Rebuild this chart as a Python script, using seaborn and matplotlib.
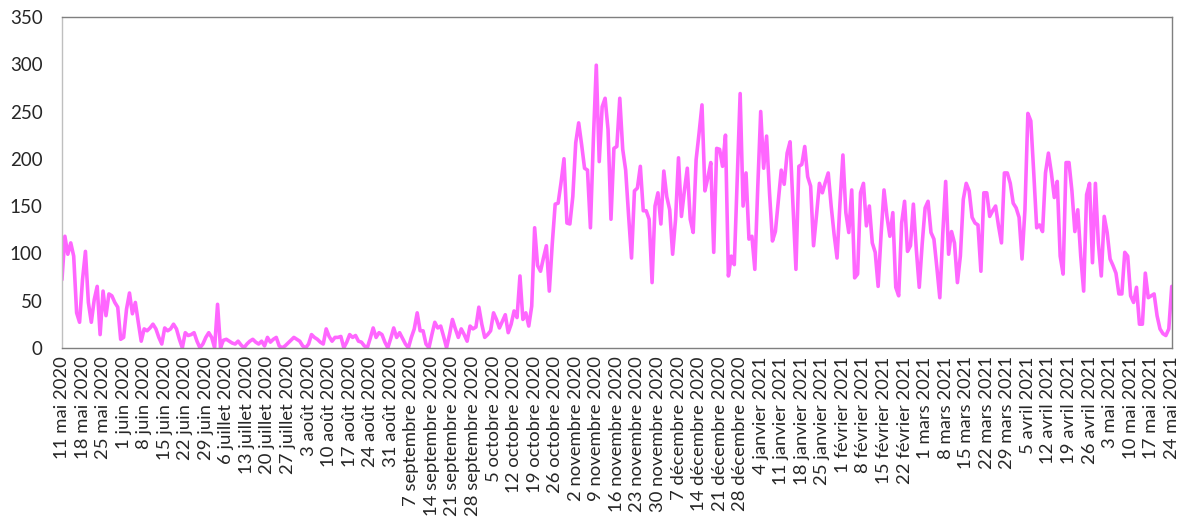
import pandas as pd
import matplotlib
matplotlib.use("Agg")
import matplotlib.pyplot as plt
import seaborn as sns

# valeurs journalières du 11 mai 2020 au 24 mai 2021
valeurs = [
    72, 118, 99, 111, 97, 37, 27, 72, 102, 48,
    27, 51, 65, 14, 60, 34, 57, 55, 48, 43,
    9, 11, 41, 58, 36, 48, 27, 7, 20, 18,
    21, 25, 20, 11, 4, 21, 18, 20, 25, 20,
    9, 0, 16, 13, 14, 16, 7, 0, 4, 11,
    16, 11, 0, 46, 0, 8, 9, 7, 5, 4,
    7, 3, 0, 4, 7, 9, 6, 4, 7, 2,
    11, 6, 9, 11, 2, 0, 2, 5, 8, 11,
    9, 7, 2, 0, 4, 14, 11, 9, 6, 4,
    20, 12, 7, 11, 11, 12, 0, 6, 14, 11,
    13, 7, 6, 2, 0, 10, 21, 11, 16, 14,
    6, 0, 10, 21, 11, 16, 10, 4, 0, 11,
    20, 37, 18, 18, 4, 0, 14, 27, 21, 23,
    12, 0, 14, 30, 20, 11, 20, 14, 7, 23,
    20, 22, 43, 25, 11, 14, 18, 37, 30, 21,
    28, 35, 16, 25, 39, 32, 76, 30, 37, 23,
    44, 127, 87, 81, 95, 108, 60, 110, 152, 153,
    175, 200, 132, 131, 160, 217, 238, 215, 190, 188,
    127, 220, 299, 197, 255, 264, 231, 136, 211, 213,
    264, 210, 188, 140, 95, 166, 169, 192, 145, 145,
    136, 69, 150, 164, 131, 187, 160, 146, 99, 136,
    201, 139, 166, 190, 136, 122, 199, 227, 257, 166,
    180, 196, 101, 211, 210, 192, 225, 76, 97, 88,
    180, 269, 150, 185, 115, 118, 83, 170, 250, 190,
    224, 164, 113, 123, 155, 188, 173, 206, 218, 150,
    83, 192, 194, 213, 181, 171, 108, 140, 174, 164,
    175, 185, 150, 120, 95, 153, 204, 143, 122, 167,
    74, 78, 164, 174, 129, 150, 111, 101, 65, 120,
    167, 139, 118, 143, 64, 55, 132, 155, 102, 108,
    152, 104, 64, 110, 148, 155, 122, 115, 85, 53,
    120, 176, 99, 123, 111, 69, 97, 157, 174, 166,
    138, 132, 130, 81, 164, 164, 139, 145, 150, 129,
    111, 185, 185, 174, 153, 148, 138, 94, 146, 248,
    240, 185, 127, 130, 123, 185, 206, 185, 159, 176,
    97, 78, 196, 196, 166, 123, 146, 97, 60, 162,
    174, 90, 174, 111, 76, 139, 122, 94, 87, 79,
    57, 57, 101, 97, 55, 48, 64, 25, 25, 79,
    53, 55, 57, 34, 20, 15, 13, 20, 65,
]

mois = ["janvier", "février", "mars", "avril", "mai", "juin", "juillet",
        "août", "septembre", "octobre", "novembre", "décembre"]

dates = pd.date_range("2020-05-11", periods=len(valeurs), freq="D")
jours = list(range(len(valeurs)))
positions_ticks = jours[::7]
etiquettes = [f"{dates[i].day} {mois[dates[i].month - 1]} {dates[i].year}" for i in positions_ticks]
graduations_y = [0, 50, 100, 150, 200, 250, 300, 350]

df = pd.DataFrame({"jour": jours, "valeur": valeurs})

sns.set_style("white")
plt.rcParams['font.family'] = ['Lato', 'DejaVu Sans']

fig = plt.figure(figsize=(11.8, 5.31), dpi=100)
ax = fig.add_axes([0.0525, 0.345, 0.9405, 0.623])

sns.lineplot(data=df, x="jour", y="valeur", ax=ax, color="#FF66FF", linewidth=2.6)

ax.set_xlim(0, len(valeurs) - 1)
ax.set_ylim(0, 350)
ax.set_yticks(graduations_y)
ax.set_xticks(positions_ticks)
ax.set_xticklabels(etiquettes, rotation=90, fontsize=13.3)
ax.tick_params(axis="y", labelsize=13.5, length=0, pad=14)
ax.tick_params(axis="x", length=0, pad=6)
ax.set_xlabel("")
ax.set_ylabel("")

for cote in ["top", "right", "bottom"]:
    ax.spines[cote].set_color("#7f7f7f")
ax.spines["left"].set_color("#bfbfbf")
for s in ax.spines.values():
    s.set_linewidth(1.0)

fig.savefig("out.png", dpi=100)
